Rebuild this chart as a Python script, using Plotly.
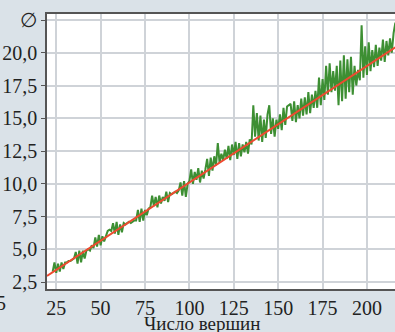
import plotly.graph_objects as go

# vertex counts (x) and measured values (green series)
n_vertices = list(range(23, 217))
values = [
    3.3, 4.0, 3.2, 3.9, 3.3, 4.0, 3.5, 4.0, 4.0, 4.1,   # 23-32
    4.1, 4.2, 4.3, 4.8, 3.9, 4.9, 4.0, 4.9, 4.3, 4.9,   # 33-42
    5.0, 4.9, 5.3, 5.1, 5.9, 5.2, 6.1, 5.3, 6.0, 5.6,   # 43-52
    6.1, 6.4, 6.5, 6.4, 7.0, 6.2, 7.1, 6.1, 6.9, 6.3,   # 53-62
    7.0, 6.9, 7.0, 7.1, 7.0, 7.1, 7.2, 7.2, 8.0, 7.1,   # 63-72
    8.1, 7.2, 8.0, 7.6, 8.1, 8.2, 9.1, 8.3, 9.0, 8.2,   # 73-82
    9.1, 8.5, 9.0, 8.7, 9.4, 8.6, 9.3, 9.2, 9.3, 9.4,   # 83-92
    9.3, 9.5, 10.1, 9.1, 10.2, 9.0, 10.0, 10.2, 11.1, 10.0,  # 93-102
    10.9, 10.3, 11.2, 10.1, 11.0, 10.4, 11.1, 11.9, 10.6, 12.0,  # 103-112
    11.0, 12.1, 11.4, 13.1, 11.6, 12.3, 11.8, 12.6, 11.9, 12.9,  # 113-122
    11.8, 13.0, 12.2, 13.2, 11.9, 13.1, 12.1, 13.0, 12.4, 13.2,  # 123-132
    12.3, 13.4, 13.0, 16.0, 13.6, 15.4, 13.3, 15.2, 13.2, 14.9,  # 133-142
    13.5, 15.3, 16.0, 13.8, 15.0, 13.6, 14.9, 14.2, 15.3, 14.1,  # 143-152
    15.8, 14.5, 15.9, 16.0, 16.1, 14.8, 16.3, 14.7, 16.0, 15.0,  # 153-162
    16.5, 15.2, 16.6, 15.3, 17.0, 15.4, 16.8, 15.8, 17.1, 15.8,  # 163-172
    18.1, 16.0, 18.0, 16.4, 19.0, 16.8, 19.2, 17.0, 18.6, 17.1,  # 173-182
    19.0, 16.0, 19.4, 16.3, 19.8, 16.5, 19.5, 17.0, 19.7, 16.8,  # 183-192
    19.0, 17.5, 18.7, 17.9, 22.1, 18.1, 20.5, 18.3, 20.8, 18.6,  # 193-202
    20.2, 18.9, 20.6, 19.0, 20.4, 19.4, 21.0, 19.3, 20.9, 19.8,  # 203-212
    21.1, 20.0, 21.5, 22.3,                                      # 213-216
]

# linear fit (red line) endpoints
fit_x = [19.8, 216]
fit_y = [2.96, 20.42]

y_tickvals = [2.5, 5.0, 7.5, 10.0, 12.5, 15.0, 17.5, 20.0, 22.5]
y_ticktext = ["2,5", "5,0", "7,5", "10,0", "12,5", "15,0", "17,5", "20,0", "\u2205"]
x_tickvals = [25, 50, 75, 100, 125, 150, 175, 200]
x_ticktext = ["25", "50", "75", "100", "125", "150", "175", "200"]

serif = "Liberation Serif"

fig = go.Figure()
fig.add_trace(go.Scatter(x=n_vertices, y=values, mode="lines",
                         line=dict(color="#3d8f33", width=2), showlegend=False))
fig.add_trace(go.Scatter(x=fit_x, y=fit_y, mode="lines",
                         line=dict(color="#ee4a30", width=2), showlegend=False))

fig.update_layout(
    width=395, height=332,
    margin=dict(l=47, r=0, t=14, b=43, autoexpand=False),
    paper_bgcolor="#dae2e8",
    plot_bgcolor="#ffffff",
    font=dict(family=serif, size=20, color="#222222"),
    xaxis=dict(range=[19.8, 215.8], tickvals=x_tickvals, ticktext=x_ticktext,
               showgrid=True, gridcolor="#cfd3d8", gridwidth=1.5,
               showline=True, linecolor="#555555", linewidth=1.5, mirror=True,
               ticks="", zeroline=False, automargin=False,
               tickfont=dict(family=serif, size=20)),
    yaxis=dict(range=[1.97, 22.96], tickvals=y_tickvals, ticktext=y_ticktext,
               showgrid=True, gridcolor="#cfd3d8", gridwidth=1.5,
               showline=True, linecolor="#555555", linewidth=1.5,
               ticks="outside", ticklen=4, tickcolor="#555555",
               zeroline=False, automargin=False,
               tickfont=dict(family=serif, size=20)),
    annotations=[
        dict(text="Число вершин", xref="paper", yref="paper", x=0.445, y=-0.125,
             showarrow=False, font=dict(family=serif, size=19, color="#222222"),
             xanchor="center", yanchor="middle"),
        dict(text="5", xref="paper", yref="paper", x=-0.112, y=-0.051,
             showarrow=False, font=dict(family=serif, size=20, color="#222222"),
             xanchor="right", yanchor="middle"),
    ],
)

fig.write_html("out.html",
               config={"displayModeBar": False},
               post_script="document.body.style.margin='0';document.body.style.overflow='hidden';")
